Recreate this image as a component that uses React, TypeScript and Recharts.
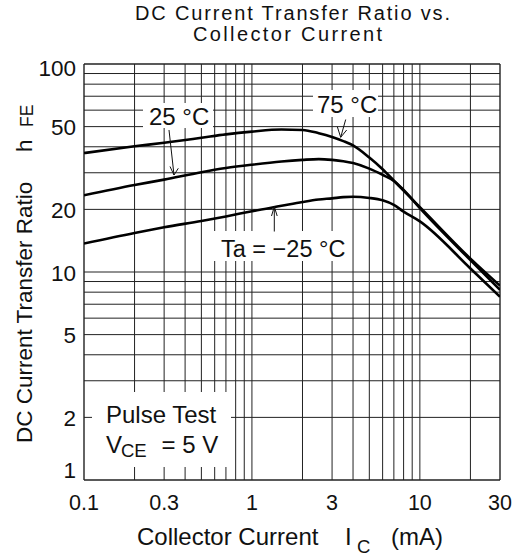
import React from 'react'
import { LineChart, Line, XAxis, YAxis, ReferenceLine } from 'recharts'

// collector current (mA) sample points shared by the three curves
const ic = [0.1, 0.2, 0.3, 0.5, 0.7, 1, 1.5, 2, 2.5, 3, 3.5, 4, 5, 6, 7, 8, 10, 20, 30]
const hfe75 = [37.3, 40.2, 41.8, 44.2, 45.9, 47.3, 48.4, 48.2, 46.5, 44.6, 42.6, 40.6, 35.5, 31.2, 27.5, 24.6, 20.5, 11.6, 8.6]
const hfe25 = [23.4, 26.2, 27.8, 30.2, 31.6, 32.8, 34.0, 34.6, 34.9, 34.6, 34.1, 33.4, 31.4, 29.3, 27.4, 24.8, 20.3, 11.4, 8.2]
const hfeMinus25 = [13.7, 15.4, 16.4, 17.6, 18.5, 19.6, 20.8, 21.7, 22.3, 22.6, 22.9, 23.0, 22.7, 22.1, 21.0, 19.5, 17.5, 10.4, 7.6]

const xTicks = [0.1, 0.3, 1, 3, 10, 30]
const yTicks = [1, 2, 5, 10, 20, 50, 100]
const xGrid = [0.1, 0.2, 0.3, 0.4, 0.5, 0.6, 0.7, 0.8, 0.9, 1, 2, 3, 4, 5, 6, 7, 8, 9, 10, 20, 30]
const yGrid = [1, 2, 3, 4, 5, 6, 7, 8, 9, 10, 20, 30, 40, 50, 60, 70, 80, 90, 100]

const toSeries = (ys: number[]) => ic.map((x, i) => ({ ic: x, hfe: ys[i] }))

const FONT = '"Liberation Sans", Arial, Helvetica, sans-serif'
const INK = '#111'

const YTick = ({ x, y, payload }: any) => {
  const v = payload.value
  const shift = v === 100 ? 12 : v === 1 ? -2 : 8.5
  return (
    <text x={x} y={y + shift} textAnchor="end" fontSize={22.5} fill={INK} fontFamily={FONT}>
      {v}
    </text>
  )
}

const Arrow = ({ x1, y1, x2, y2, a, b }: any) => (
  <g stroke={INK} strokeWidth={1} fill="none">
    <line x1={x1} y1={y1} x2={x2} y2={y2} />
    <polyline points={`${a[0]},${a[1]} ${x2},${y2} ${b[0]},${b[1]}`} />
  </g>
)

const App = () => {
  return (
    <div style={{ position: 'absolute', left: 0, top: 0, width: 518, height: 556, background: '#fff' }}>
      <LineChart
        width={518}
        height={556}
        margin={{ top: 64, right: 18, left: 24, bottom: 46 }}
        style={{ position: 'absolute', left: 0, top: 0 }}
      >
        <XAxis
          dataKey="ic"
          type="number"
          scale="log"
          domain={[0.1, 30]}
          allowDataOverflow
          ticks={xTicks}
          interval={0}
          axisLine={false}
          tickLine={false}
          tickMargin={9}
          tick={{ fontSize: 21.5, fill: INK, fontFamily: FONT }}
        />
        <YAxis
          type="number"
          scale="log"
          domain={[1, 100]}
          allowDataOverflow
          ticks={yTicks}
          interval={0}
          axisLine={false}
          tickLine={false}
          tick={<YTick />}
        />
        {xGrid.map((v) => (
          <ReferenceLine
            key={'x' + v}
            x={v}
            stroke="#222"
            strokeWidth={v === 0.1 || v === 30 ? 1.4 : 1}
          />
        ))}
        {yGrid.map((v) => (
          <ReferenceLine
            key={'y' + v}
            y={v}
            stroke="#222"
            strokeWidth={v === 1 || v === 100 ? 1.4 : 1}
          />
        ))}
        <Line data={toSeries(hfe75)} dataKey="hfe" type="monotone" stroke="#000" strokeWidth={2.6} dot={false} isAnimationActive={false} />
        <Line data={toSeries(hfe25)} dataKey="hfe" type="monotone" stroke="#000" strokeWidth={2.6} dot={false} isAnimationActive={false} />
        <Line data={toSeries(hfeMinus25)} dataKey="hfe" type="monotone" stroke="#000" strokeWidth={2.6} dot={false} isAnimationActive={false} />
      </LineChart>

      <svg
        width={518}
        height={556}
        style={{ position: 'absolute', left: 0, top: 0, pointerEvents: 'none' }}
        fontFamily={FONT}
        fill={INK}
      >
        {/* title */}
        <text x={135} y={19.5} fontSize={20} textLength={315} lengthAdjust="spacing">
          DC Current Transfer Ratio vs.
        </text>
        <text x={193} y={41} fontSize={20} textLength={189} lengthAdjust="spacing">
          Collector Current
        </text>

        {/* label boxes, they hide the grid behind the text */}
        <rect x={143} y={103} width={70} height={25} fill="#fff" />
        <rect x={313} y={90} width={65} height={27} fill="#fff" />
        <rect x={212} y={231} width={140} height={30} fill="#fff" />
        <rect x={92} y={392} width={139} height={75} fill="#fff" />

        <text x={149} y={125} fontSize={24}>25 °C</text>
        <text x={317} y={113} fontSize={24}>75 °C</text>
        <text x={221} y={256.5} fontSize={23.5}>Ta = −25 °C</text>

        <Arrow x1={169} y1={130} x2={174} y2={175} a={[170, 166.5]} b={[178.3, 168.3]} />
        <Arrow x1={345.7} y1={119.5} x2={340.7} y2={137.3} a={[337.3, 126.7]} b={[346.7, 130]} />
        <Arrow x1={274.3} y1={231.5} x2={274.3} y2={206.7} a={[271.5, 216]} b={[277.2, 216]} />

        <text x={106} y={423.3} fontSize={24}>Pulse Test</text>
        <text x={106} y={453.3} fontSize={24}>
          V
          <tspan x={121} dy={3.4} fontSize={18.5}>CE</tspan>
          <tspan x={161.5} dy={-3.4} fontSize={24}>= 5 V</tspan>
        </text>

        {/* axis titles */}
        <text transform="translate(32,443) rotate(-90)" fontSize={22.5}>
          DC Current Transfer Ratio
          <tspan x={291}>h</tspan>
          <tspan x={316} dy={0.5} fontSize={17.5}>FE</tspan>
        </text>
        <text x={137} y={544.5} fontSize={24}>
          Collector Current
          <tspan x={345}>I</tspan>
          <tspan x={357} dy={8} fontSize={18.5}>C</tspan>
          <tspan x={391} dy={-8} fontSize={24}>(mA)</tspan>
        </text>
      </svg>
    </div>
  )
}

export default App
